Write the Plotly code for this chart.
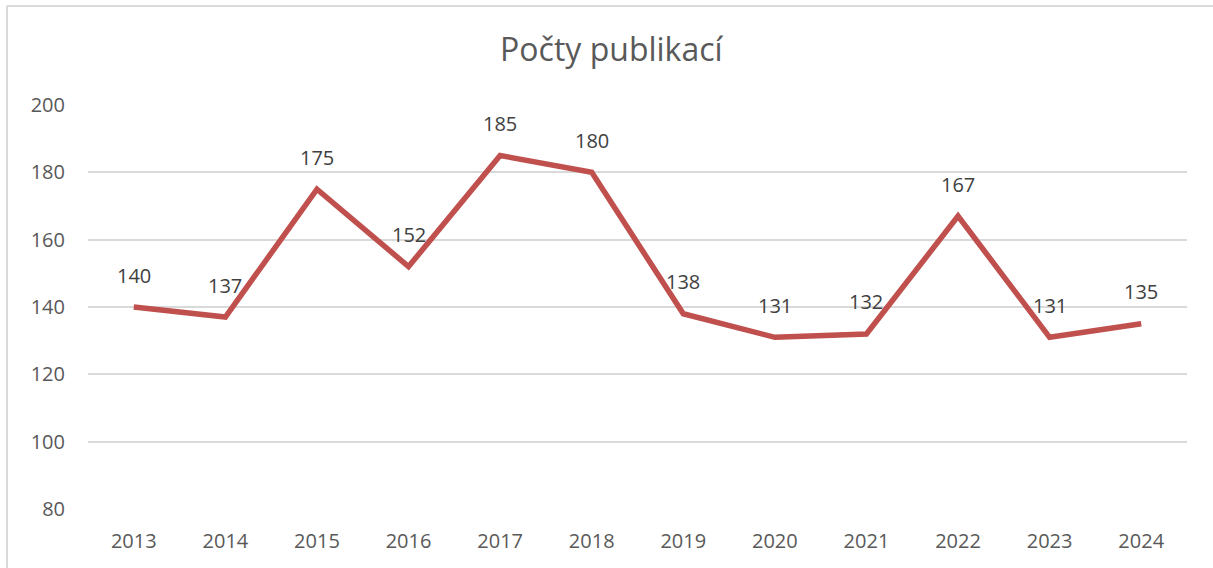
import plotly.graph_objects as go

years = ["2013", "2014", "2015", "2016", "2017", "2018", "2019", "2020", "2021", "2022", "2023", "2024"]
counts = [140, 137, 175, 152, 185, 180, 138, 131, 132, 167, 131, 135]
y_ticks = [80, 100, 120, 140, 160, 180, 200]
title_text = "Počty publikací"

FONT = "Open Sans"
TXT = "#595959"

fig = go.Figure()
fig.add_trace(go.Scatter(
    x=years, y=counts, mode="lines",
    line=dict(color="#C0504D", width=5.5),
    hoverinfo="x+y", showlegend=False,
))

for i, v in enumerate(counts):
    fig.add_annotation(x=i, y=v, text=str(v), showarrow=False, yshift=32,
                       font=dict(family=FONT, size=20, color="#404040"))

border = dict(color="#d9d9d9", width=2)
fig.update_layout(
    width=1213, height=568,
    margin=dict(l=88, r=26, t=105, b=59),
    paper_bgcolor="white", plot_bgcolor="white",
    title=dict(text=title_text, x=0.504, xanchor="center", y=1 - 50 / 568, yanchor="middle",
               font=dict(family=FONT, size=32, color=TXT)),
    xaxis=dict(type="category", range=[-0.5, 11.5], showgrid=False, showline=False,
               zeroline=False, ticks="", ticklabelstandoff=18, automargin=False,
               tickfont=dict(family=FONT, size=20, color=TXT)),
    yaxis=dict(range=[80, 200], tickvals=y_ticks, showgrid=True, gridcolor="#d9d9d9",
               gridwidth=1.5, zeroline=False, showline=False, ticks="",
               ticklabelstandoff=22, automargin=False,
               tickfont=dict(family=FONT, size=20, color=TXT)),
    shapes=[
        dict(type="line", xref="paper", yref="paper", x0=-0.0737, x1=1.2,
             y0=1.245, y1=1.245, line=border, layer="below"),
        dict(type="line", xref="paper", yref="paper", x0=-0.0737, x1=-0.0737,
             y0=-0.3, y1=1.245, line=border, layer="below"),
    ],
)

fig.write_html(
    "out.html",
    config={"displayModeBar": False},
    post_script="document.body.style.margin='0';document.body.style.overflow='hidden';",
)
